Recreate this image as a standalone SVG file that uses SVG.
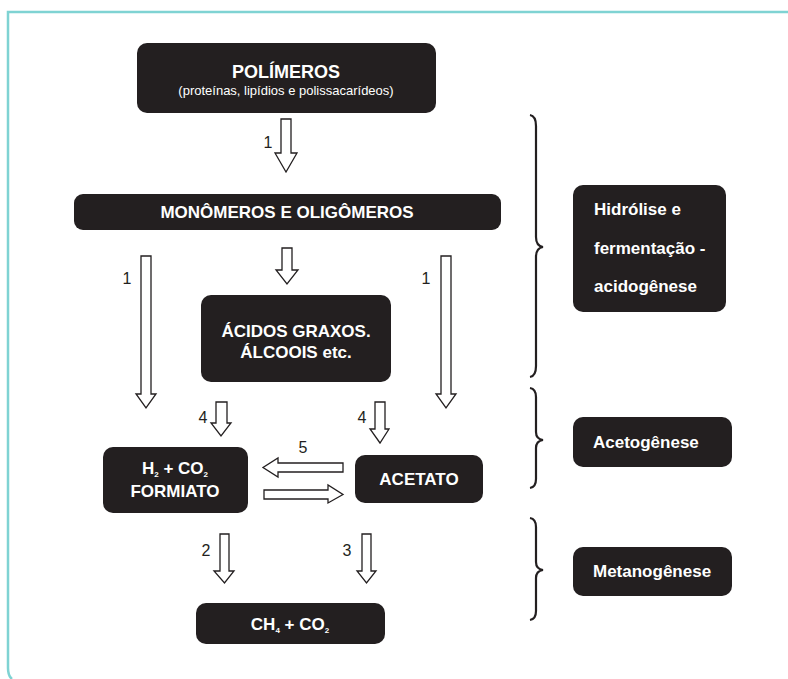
<svg xmlns="http://www.w3.org/2000/svg" width="788" height="679" viewBox="0 0 788 679">
<style>
.box{fill:#231f20}
.t{font-family:"Liberation Sans",Arial,sans-serif;font-weight:bold;fill:#fff}
.n{font-family:"Liberation Sans",Arial,sans-serif;fill:#231f20;font-size:16px}
.arr{fill:#fff;stroke:#231f20;stroke-width:1.3;stroke-linejoin:miter}
.brace{fill:none;stroke:#231f20;stroke-width:2.2}
</style>
<rect width="788" height="679" fill="#fff"/>
<path d="M788,12 L8,12 L8,668 Q8,676 12,679" fill="none" stroke="#7fd3d3" stroke-width="2.5"/>

<g id="polimeros">
<rect class="box" x="137" y="43" width="299" height="70" rx="10"/>
<text class="t" x="286" y="78" font-size="18" text-anchor="middle">POLÍMEROS</text>
<text class="t" x="286" y="95" font-size="13" text-anchor="middle" style="font-weight:normal">(proteínas, lipídios e polissacarídeos)</text>
</g>
<g id="monomeros">
<rect class="box" x="74" y="194" width="427" height="36" rx="9"/>
<text class="t" x="287" y="218" font-size="17" text-anchor="middle">MONÔMEROS E OLIGÔMEROS</text>
</g>
<g id="acidos">
<rect class="box" x="201" y="295" width="190" height="87" rx="10"/>
<text class="t" x="296" y="337" font-size="17" text-anchor="middle">ÁCIDOS GRAXOS.</text>
<text class="t" x="296" y="358" font-size="17" text-anchor="middle">ÁLCOOIS etc.</text>
</g>
<g id="h2co2">
<rect class="box" x="103" y="447" width="145" height="66" rx="10"/>
<text class="t" x="175" y="474" font-size="17" text-anchor="middle">H<tspan font-size="8" dy="3">2</tspan><tspan dy="-3"> + CO</tspan><tspan font-size="8" dy="3">2</tspan></text>
<text class="t" x="175" y="497" font-size="17" text-anchor="middle">FORMIATO</text>
</g>
<g id="acetato">
<rect class="box" x="355" y="455" width="128" height="48" rx="10"/>
<text class="t" x="419" y="485" font-size="17" text-anchor="middle">ACETATO</text>
</g>
<g id="ch4co2">
<rect class="box" x="196" y="603" width="189" height="41" rx="10"/>
<text class="t" x="290" y="630" font-size="17" text-anchor="middle">CH<tspan font-size="8" dy="3">4</tspan><tspan dy="-3"> + CO</tspan><tspan font-size="8" dy="3">2</tspan></text>
</g>
<g id="hidrolise">
<rect class="box" x="573" y="185" width="153" height="127" rx="10"/>
<text class="t" x="594" y="215" font-size="17">Hidrólise e</text>
<text class="t" x="594" y="254" font-size="17">fermentação -</text>
<text class="t" x="594" y="292" font-size="17">acidogênese</text>
</g>
<g id="acetogenese">
<rect class="box" x="573" y="417" width="159" height="50" rx="10"/>
<text class="t" x="593" y="448" font-size="17">Acetogênese</text>
</g>
<g id="metanogenese">
<rect class="box" x="573" y="547" width="159" height="49" rx="10"/>
<text class="t" x="593" y="577" font-size="17">Metanogênese</text>
</g>

<g id="connectors">
<polygon class="arr" points="281,119 291,119 291,153 297,153 286,172 275,153 281,153"/>
<text class="n" x="268" y="148" text-anchor="middle">1</text>

<polygon class="arr" points="141,256 151,256 151,394 156,394 146,408 136,394 141,394"/>
<text class="n" x="127" y="284" text-anchor="middle">1</text>

<polygon class="arr" points="282,248 292,248 292,270 298,270 287,284 276,270 282,270"/>

<polygon class="arr" points="441,256 451,256 451,394 456,394 446,408 436,394 441,394"/>
<text class="n" x="426" y="284" text-anchor="middle">1</text>

<polygon class="arr" points="216,402 227,402 227,423 231,423 221,436 211,423 216,423"/>
<text class="n" x="203" y="423" text-anchor="middle">4</text>

<polygon class="arr" points="375,402 385,402 385,429 389,429 380,443 370,429 375,429"/>
<text class="n" x="362" y="423" text-anchor="middle">4</text>

<polygon class="arr" points="343,463 343,472 278,472 278,477 263,467.5 278,458 278,463"/>
<text class="n" x="303" y="453" text-anchor="middle">5</text>

<polygon class="arr" points="264,490 264,499 328,499 328,503 343,494.5 328,485 328,490"/>

<polygon class="arr" points="220,534 229,534 229,571 234,571 224.5,583 214,571 220,571"/>
<text class="n" x="206" y="556" text-anchor="middle">2</text>

<polygon class="arr" points="362,534 371,534 371,571 376,571 366.5,583 357,571 362,571"/>
<text class="n" x="347" y="556" text-anchor="middle">3</text>

<path class="brace" d="M530,115 Q536,116 536,126 L536,237 Q536,246 543,247 Q536,248 536,257 L536,366 Q536,376 530,377"/>
<path class="brace" d="M530,388 Q536,389 536,397 L536,432 Q536,439 543,440 Q536,441 536,448 L536,479 Q536,487 530,488"/>
<path class="brace" d="M530,518 Q536,519 536,527 L536,562 Q536,569 543,570 Q536,571 536,578 L536,611 Q536,619 530,620"/>
</g>
</svg>
